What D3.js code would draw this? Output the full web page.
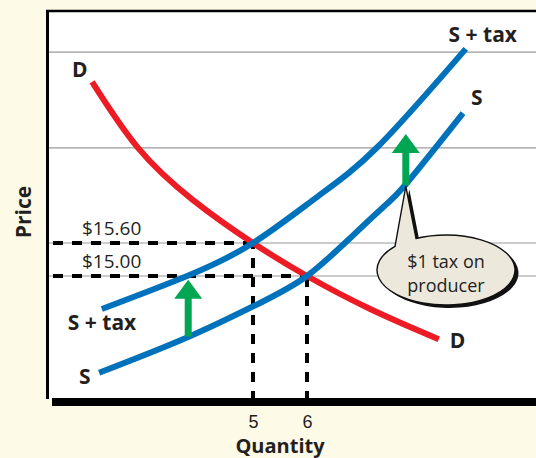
<!DOCTYPE html>
<html lang="en">
<head>
  <meta charset="utf-8">
  <title>Tax on producer</title>
  <script src="https://d3js.org/d3.v7.min.js"></script>
  <style>
    * { margin: 0; padding: 0; }
    html, body { width: 536px; height: 458px; background: #fefae8; overflow: hidden; }
    svg { display: block; font-family: "Open Sans", sans-serif; }
    .lbl { font-weight: bold; fill: #231f20; font-size: 21px; }
    .num { fill: #231f20; font-size: 19px; }
  </style>
</head>
<body>
<svg id="chart" width="536" height="458"></svg>
<script>
// curves, [quantity, price]
const demand    = [[2.02, 18.53], [2.87, 17.33], [3.89, 16.38], [5, 15.6], [6, 15.0], [7.17, 14.40], [8.44, 13.85]];
const supply    = [[2.15, 13.24], [3.80, 13.89], [5.13, 14.51], [6, 15.0], [6.80, 15.69], [7.41, 16.25], [7.85, 16.69], [8.89, 17.96]];
const supplyTax = [[2.20, 14.40], [3.78, 15.0], [5, 15.6], [6.19, 16.44], [7.31, 17.35], [8.94, 19.13]];

const gridPrices  = [19.07, 17.33, 15.6, 15.0];
const eqQuantity  = [5, 6];
const eqPrice     = [15.6, 15.0];
const priceLabels = ["$15.60", "$15.00"];

const arrowQ    = [3.80, 7.83];
const arrowFrom = [13.90, 16.65];
const arrowTo   = [14.93, 17.58];

const calloutText = ["$1 tax on", "producer"];

(function(d3) {
  const svg = d3.select("#chart");
  const x = d3.scaleLinear().domain([1, 10]).range([37, 523]);
  const y = d3.scaleLinear().domain([13, 19]).range([386, 56]);

  const left = 47, right = 536, top = 10, bottom = 399;

  // plot panel
  svg.append("rect").attr("x", left).attr("y", top)
    .attr("width", right - left).attr("height", bottom - top).attr("fill", "#fff");

  svg.append("g").selectAll("line").data(gridPrices).join("line")
    .attr("x1", left).attr("x2", right)
    .attr("y1", d => y(d)).attr("y2", d => y(d))
    .attr("stroke", "#9a9a9a").attr("stroke-width", 1.2);

  // dashed guides
  const dash = svg.append("g").attr("stroke", "#000").attr("stroke-width", 4)
    .attr("stroke-dasharray", "10,9").attr("fill", "none");
  eqQuantity.forEach((q, i) => {
    dash.append("line").attr("x1", left + 6).attr("x2", x(q))
      .attr("y1", y(eqPrice[i])).attr("y2", y(eqPrice[i]));
    dash.append("line").attr("x1", x(q)).attr("x2", x(q))
      .attr("y1", bottom + 2).attr("y2", y(eqPrice[i]));
  });

  // frame
  svg.append("line").attr("x1", left - 1).attr("x2", right).attr("y1", top + 1).attr("y2", top + 1)
    .attr("stroke", "#000").attr("stroke-width", 2.5);
  svg.append("line").attr("x1", left + 0.5).attr("x2", left + 0.5).attr("y1", top).attr("y2", bottom)
    .attr("stroke", "#000").attr("stroke-width", 3);
  svg.append("rect").attr("x", 52).attr("y", bottom - 1).attr("width", right - 52).attr("height", 8)
    .attr("fill", "#000");

  const line = d3.line().x(d => x(d[0])).y(d => y(d[1])).curve(d3.curveNatural);
  const curves = [
    { pts: demand, color: "#ed1c24" },
    { pts: supply, color: "#0072bc" },
    { pts: supplyTax, color: "#0072bc" }
  ];
  svg.append("g").selectAll("path").data(curves).join("path")
    .attr("d", d => line(d.pts))
    .attr("fill", "none").attr("stroke", d => d.color).attr("stroke-width", 6);

  // green tax arrows
  const arrow = (q, p0, p1) => {
    const cx = x(q), ya = y(p0), yb = y(p1), head = 19, sw = 3.5, hw = 14;
    return `M${cx - sw},${ya} L${cx - sw},${yb + head} L${cx - hw},${yb + head} L${cx},${yb}` +
           ` L${cx + hw},${yb + head} L${cx + sw},${yb + head} L${cx + sw},${ya} Z`;
  };
  svg.append("g").selectAll("path").data(arrowQ).join("path")
    .attr("d", (q, i) => arrow(q, arrowFrom[i], arrowTo[i]))
    .attr("fill", "#00a651");

  // callout bubble
  const cx = 446, cy = 270, rx = 69, ry = 35;
  const tipX = x(arrowQ[1]), tipY = y(arrowFrom[1]) + 1;
  const ex = dx => cy - ry * Math.sqrt(1 - (dx / rx) * (dx / rx));
  const bx0 = 395, bx1 = 416;
  const bubble = `M${bx0},${ex(bx0 - cx)} L${tipX},${tipY} L${bx1},${ex(bx1 - cx)}` +
                 ` A${rx},${ry} 0 1 1 ${bx0},${ex(bx0 - cx)} Z`;
  svg.append("path").attr("d", bubble).attr("transform", "translate(3.5,3)").attr("fill", "#111");
  svg.append("path").attr("d", bubble).attr("fill", "#ece8dc")
    .attr("stroke", "#111").attr("stroke-width", 1.4);
  svg.append("text").attr("class", "num").attr("text-anchor", "middle")
    .attr("x", cx).attr("y", 268).style("font-size", "18px").selectAll("tspan")
    .data(calloutText).join("tspan")
    .attr("x", cx).attr("dy", (d, i) => i ? 24 : 0).text(d => d);

  // price labels
  svg.append("g").selectAll("text").data(priceLabels).join("text")
    .attr("class", "num").attr("x", 82).attr("y", (d, i) => y(eqPrice[i]) - 8).text(d => d);

  // quantity axis labels
  const ax = svg.append("g").attr("transform", `translate(0,${bottom + 7})`)
    .call(d3.axisBottom(x).tickValues(eqQuantity).tickSize(0).tickPadding(9));
  ax.select(".domain").remove();
  ax.selectAll("text").attr("class", "num").attr("font-family", null).attr("font-size", null)
    .attr("fill", null).attr("dy", "0.71em").style("font-size", "18px");

  svg.append("text").attr("class", "lbl").attr("text-anchor", "middle")
    .attr("x", (x(eqQuantity[0]) + x(eqQuantity[1])) / 2).attr("y", 453)
    .style("font-size", "20px").text("Quantity");
  svg.append("text").attr("class", "lbl").attr("text-anchor", "middle")
    .attr("transform", "translate(31,212) rotate(-90)").text("Price");

  // curve labels
  const first = a => [x(a[0][0]), y(a[0][1])];
  const last = a => [x(a[a.length - 1][0]), y(a[a.length - 1][1])];
  const labels = [
    { t: "D", p: first(demand), dx: -20, dy: -5, a: "start" },
    { t: "D", p: last(demand), dx: 11, dy: 9, a: "start" },
    { t: "S + tax", p: last(supplyTax), dx: 17, dy: -7, a: "middle" },
    { t: "S", p: last(supply), dx: 8, dy: -8, a: "start" },
    { t: "S + tax", p: first(supplyTax), dx: -34, dy: 21, a: "start" },
    { t: "S", p: first(supply), dx: -20, dy: 11, a: "start" }
  ];
  svg.append("g").selectAll("text").data(labels).join("text")
    .attr("class", "lbl").attr("text-anchor", d => d.a)
    .attr("x", d => d.p[0] + d.dx).attr("y", d => d.p[1] + d.dy).text(d => d.t);
})(d3);
</script>
</body>
</html>
